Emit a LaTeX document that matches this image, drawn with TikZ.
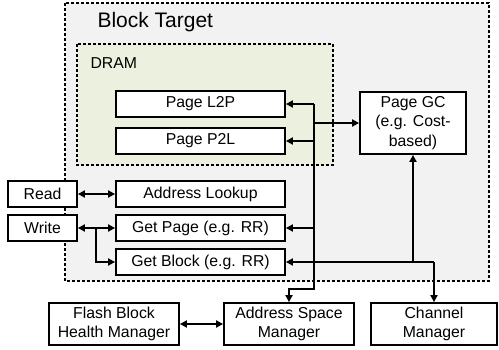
\documentclass[tikz,border=0pt]{standalone}
\usepackage{fontspec}
\setmainfont{Liberation Sans}
\usetikzlibrary{arrows.meta}
\definecolor{panelgray}{HTML}{F2F2F2}
\definecolor{dramgreen}{HTML}{EBF1DE}
\tikzset{
  blk/.style={draw=black, line width=1.8pt, fill=white, inner sep=0pt,
    font=\fontsize{15.8}{19.8}\selectfont, align=center},
  conn/.style={line width=1.8pt, draw=black},
  tip/.tip={Triangle[length=7pt,width=7pt]},
  frame/.style={line width=1.5pt, dash pattern=on 3pt off 2pt}
}
\begin{document}
\begin{tikzpicture}[x=1pt,y=-1pt]
  \useasboundingbox (0,0) rectangle (499,349);

  % enclosing regions
  \draw[frame, fill=panelgray] (65,3) rectangle (489,281);
  \node[anchor=west, font=\fontsize{21}{24}\selectfont] (bt) at (94,22) {Block Target};
  \draw[frame, fill=dramgreen] (77,44) rectangle (333,165);
  \node[anchor=west, font=\fontsize{15.8}{18}\selectfont] (dram) at (87,63) {DRAM};

  % blocks
  \node[blk, minimum width=169pt, minimum height=26pt] (l2p) at (200.5,104) {Page L2P};
  \node[blk, minimum width=169pt, minimum height=26pt] (p2l) at (200.5,141) {Page P2L};
  \node[blk, minimum width=106pt, minimum height=62pt] (gc) at (413,123) {Page GC\\(e.g. Cost-\\based)};
  \node[blk, minimum width=69pt, minimum height=26pt] (read) at (42.5,194) {Read};
  \node[blk, minimum width=69pt, minimum height=26pt] (write) at (42.5,228) {Write};
  \node[blk, minimum width=169pt, minimum height=26pt] (lookup) at (200.5,194) {Address Lookup};
  \node[blk, minimum width=169pt, minimum height=26pt] (getpage) at (200.5,228) {Get Page (e.g. RR)};
  \node[blk, minimum width=169pt, minimum height=26pt] (getblock) at (200.5,262) {Get Block (e.g. RR)};
  \node[blk, minimum width=130pt, minimum height=42pt] (fbhm) at (114,324) {Flash Block\\Health Manager};
  \node[blk, minimum width=130pt, minimum height=42pt] (asm) at (289,324) {Address Space\\Manager};
  \node[blk, minimum width=126pt, minimum height=42pt] (chan) at (434,324) {Channel\\Manager};

  % junction points
  \coordinate (trunktop) at (314,104);
  \coordinate (trunkbot) at (314,289);
  \coordinate (split) at (96,228);
  \coordinate (chanjoin) at (chan.north |- getblock.east);

  % connectors
  \draw[conn, -tip] (trunktop) -- (trunkbot) -| (asm.north);
  \draw[conn, -tip] (trunktop) -- (l2p.east);
  \draw[conn, -tip] (trunktop |- p2l.east) -- (p2l.east);
  \draw[conn, -tip] (trunktop |- gc.west) -- (gc.west);
  \draw[conn, -tip] (trunktop |- getpage.east) -- (getpage.east);
  \draw[conn, tip-tip] (read) -- (lookup);
  \draw[conn, tip-tip] (write) -- (getpage);
  \draw[conn, -tip] (split) |- (getblock.west);
  \draw[conn, -tip] (chanjoin) -- (getblock.east);
  \draw[conn, -tip] (chanjoin) -- (chan.north);
  \draw[conn, -tip] (gc.south |- getblock.east) -- (gc.south);
  \draw[conn, tip-tip] (fbhm) -- (asm);
\end{tikzpicture}
\end{document}
